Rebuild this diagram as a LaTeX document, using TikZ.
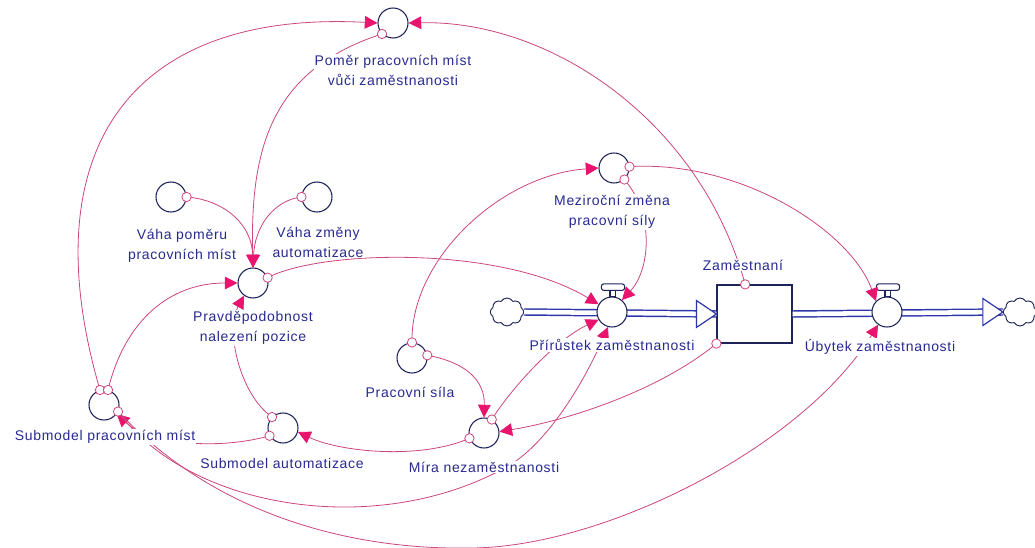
\documentclass[tikz,border=0pt]{standalone}
\usepackage{fontspec}
\setmainfont{Liberation Sans}[LetterSpace=5]
\usetikzlibrary{arrows.meta,shapes.symbols}

\definecolor{txt}{RGB}{40,42,145}
\definecolor{varc}{RGB}{30,35,90}
\definecolor{lnk}{RGB}{205,70,125}
\definecolor{tipc}{RGB}{232,20,110}
\definecolor{pipec}{RGB}{45,55,170}

\begin{document}
\begin{tikzpicture}[x=0.75pt,y=-0.75pt,
  aux/.style={circle,draw=varc,line width=0.8pt,fill=white,minimum size=22.5pt,inner sep=0pt},
  lbl/.style={text=txt,font=\fontsize{10.5}{15}\selectfont,align=center,fill=white,inner sep=0.8pt},
  link/.style={draw=lnk,line width=0.6pt,-{Triangle[length=9.5pt,width=9.5pt,color=tipc]}},
  tailc/.style={circle,draw=lnk,fill=white,line width=0.6pt,minimum size=7pt,inner sep=0pt},
  stockbox/.style={rectangle,draw=varc,line width=0.9pt,fill=white,minimum width=56.25pt,minimum height=43.5pt,inner sep=0pt},
  pipe/.style={draw=pipec,line width=1.1pt,double=white,double distance=3.4pt},
  pipehead/.style={draw=pipec,line width=0.9pt,fill=white,line join=miter},
  cloudnode/.style={cloud,cloud puffs=8,cloud puff arc=120,aspect=1.2,draw=varc,line width=0.7pt,fill=white,minimum width=25pt,minimum height=21pt,inner sep=0pt},
  valvepart/.style={draw=varc,line width=0.8pt,fill=white}
]
\useasboundingbox (0,0) rectangle (1035,548);
\fill[white] (0,0) rectangle (1035,548);

% ---- auxiliaries ----
\node[aux] (pomer) at (393,23) {};
\node[aux] (vahaP) at (171,197) {};
\node[aux] (vahaZ) at (317,197) {};
\node[aux] (prob)  at (253,283) {};
\node[aux] (subPM) at (104,405) {};
\node[aux] (subA)  at (283,428) {};
\node[aux] (prac)  at (412,358) {};
\node[aux] (mira)  at (484,433) {};
\node[aux] (mezi)  at (614,168) {};

% ---- stock, clouds and flow pipes ----
\node[stockbox] (stock) at (754.5,314) {};
\node[cloudnode] (cloudL) at (507,312) {};
\node[cloudnode] (cloudR) at (1020,312) {};
\coordinate (stockTop) at ([xshift=-7pt]stock.north);

\draw[pipe] (cloudL.east) -- (stock.west);
\draw[pipe] (stock.east) -- (cloudR.west);
\draw[pipehead] (stock.west) -- ++(-20,-13.5) -- ++(0,27) -- cycle;
\draw[pipehead] (cloudR.west) -- ++(-20,-13.5) -- ++(0,27) -- cycle;

% ---- valves ----
\node[aux] (prir) at (612,312) {};
\node[aux] (ubyt) at (887,312) {};
\foreach \v in {prir,ubyt}{
  \draw[valvepart] ([xshift=-1.5pt]\v.north) rectangle ([xshift=2.5pt,yshift=4.5pt]\v.north);
  \draw[valvepart,rounded corners=2pt] ([xshift=-8pt,yshift=4.5pt]\v.north) rectangle ([xshift=9.5pt,yshift=9.5pt]\v.north);
}

% ---- connectors ----
\draw[link] (subPM.105) .. controls (30,150) and (130,10) .. (pomer.180);
\draw[link] (stockTop) .. controls (700,120) and (550,20) .. (pomer.0);
\draw[link] (subPM.75) .. controls (125,320) and (170,283) .. (prob.180);
\draw[link] (pomer.225) .. controls (270,70) and (250,150) .. (prob.90);
\draw[link] (vahaP.0) .. controls (225,200) and (252,225) .. (prob.90);
\draw[link] (vahaZ.180) .. controls (275,200) and (255,225) .. (prob.90);
\draw[link] (subA.135) .. controls (240,395) and (225,330) .. (prob.235);
\draw[link] (subA.210) .. controls (220,450) and (150,445) .. (subPM.-35);
\draw[link] (mira.200) .. controls (420,460) and (340,452) .. (subA.-15);
\draw[link] (subPM.-25) .. controls (190,510) and (380,540) .. (510,465)
                        .. controls (550,440) and (585,380) .. (prir.255);
\draw[link] (subPM.-25) .. controls (220,520) and (360,550) .. (470,548)
                        .. controls (600,548) and (800,450) .. (ubyt.235);
\draw[link] (stock.south west) .. controls (660,390) and (570,420) .. (mira.5);
\draw[link] (prac.90) .. controls (410,260) and (500,175) .. (mezi.180);
\draw[link] (prac.10) .. controls (465,362) and (485,380) .. (mira.90);
\draw[link] (mezi.-48) .. controls (655,215) and (650,270) .. (prir.50);
\draw[link] (mezi.5) .. controls (740,160) and (850,230) .. (ubyt.135);
\draw[link] (prob.20) .. controls (320,250) and (500,245) .. (prir.150);
\draw[link] (mira.60) .. controls (510,390) and (555,340) .. (prir.210);

% ---- connector tails ----
\foreach \p in {pomer.225,subPM.105,subPM.75,subPM.-25,vahaP.0,vahaZ.180,
                subA.135,subA.210,mira.200,mira.60,prac.90,prac.10,
                mezi.-48,mezi.5,prob.20,stockTop,stock.south west}
  \node[tailc] at (\p) {};

% ---- labels ----
\node[lbl] (pomerL) at (393,70)  {Poměr pracovních míst\\vůči zaměstnanosti};
\node[lbl] (vahaPL) at (182,246) {Váha poměru\\pracovních míst};
\node[lbl] (vahaZL) at (318,242) {Váha změny\\automatizace};
\node[lbl] (probL)  at (253,328) {Pravděpodobnost\\nalezení pozice};
\node[lbl] (subPML) at (105,437) {Submodel pracovních míst};
\node[lbl] (subAL)  at (282,463) {Submodel automatizace};
\node[lbl] (pracL)  at (410,392) {Pracovní síla};
\node[lbl] (miraL)  at (484,467) {Míra nezaměstnanosti};
\node[lbl] (meziL)  at (612,212) {Meziroční změna\\pracovní síly};
\node[lbl] (stockL) at (743,265) {Zaměstnaní};
\node[lbl] (prirL)  at (612,345) {Přírůstek zaměstnanosti};
\node[lbl] (ubytL)  at (880,347) {Úbytek zaměstnanosti};
\end{tikzpicture}
\end{document}
